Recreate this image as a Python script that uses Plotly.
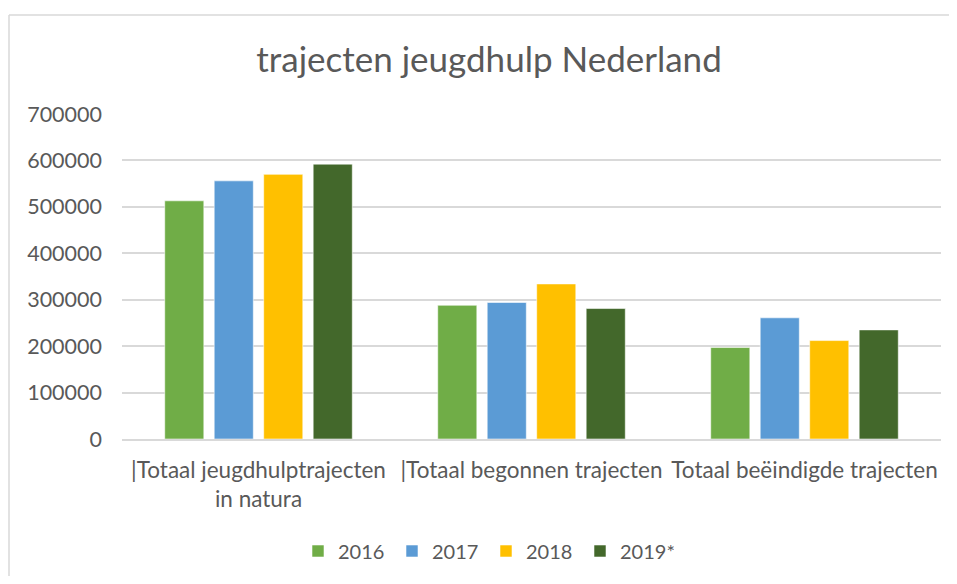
import plotly.graph_objects as go

categories = ["|Totaal jeugdhulptrajecten<br>in natura", "|Totaal begonnen trajecten", "Totaal beëindigde trajecten"]
years = ["2016", "2017", "2018", "2019*"]
v2016 = [513000, 288000, 197000]
v2017 = [556000, 294000, 261000]
v2018 = [570000, 334000, 212000]
v2019 = [592000, 281000, 235000]
colors = ["#70AD47", "#5B9BD5", "#FFC000", "#43682B"]
y_ticks = [0, 100000, 200000, 300000, 400000, 500000, 600000, 700000]

series = [v2016, v2017, v2018, v2019]
font_family = "Lato, Open Sans, sans-serif"
text_color = "#595959"

fig = go.Figure()
for name, vals, col in zip(years, series, colors):
    fig.add_trace(go.Bar(
        x=categories, y=vals, name=name,
        marker=dict(color=col, line=dict(color="rgba(255,255,255,0.55)", width=1)),
    ))

# page body has an 8px margin; compensate so the rendered view matches
OFF = 8
W, H = 957 - 2 * OFF, 584 - 2 * OFF
L, T = 122 - OFF, 114 - OFF
PLOT_RIGHT, PLOT_BOTTOM = 941 - OFF, 439 - OFF
R, B = W - PLOT_RIGHT, H - PLOT_BOTTOM
pw = W - L - R
ph = H - T - B

def px_to_paper_x(px):
    return (px - OFF - L) / pw

def px_to_paper_y(py):
    return (H - B - (py - OFF)) / ph

frame_line = dict(color="#D9D9D9", width=1.5)
fx0, fx1 = px_to_paper_x(OFF + 1), px_to_paper_x(W + 80)
fy_top, fy_bot = px_to_paper_y(15), px_to_paper_y(H + 80)

fig.update_layout(
    width=W, height=H,
    margin=dict(l=L, r=R, t=T, b=B, autoexpand=False),
    paper_bgcolor="white", plot_bgcolor="white",
    barmode="group", bargap=0.275, bargroupgap=0.21,
    font=dict(family=font_family, color=text_color, size=21),
    title=dict(text="trajecten jeugdhulp Nederland", x=(489 - OFF) / W, xanchor="center",
               y=1 - (60 - OFF) / H, yanchor="middle", font=dict(size=35, color=text_color, family=font_family)),
    legend=dict(orientation="h", x=px_to_paper_x(486), xanchor="center",
                y=px_to_paper_y(551), yanchor="middle", font=dict(size=20, color=text_color),
                itemwidth=30, entrywidth=49, traceorder="normal"),
    xaxis=dict(showgrid=False, showline=True, linecolor="#D9D9D9", linewidth=1.5,
               ticks="", ticklabelstandoff=10, tickfont=dict(size=22.5, color=text_color)),
    yaxis=dict(range=[0, 700000], tickvals=y_ticks, ticktext=[str(v) for v in y_ticks],
               showgrid=True, gridcolor="#D9D9D9", gridwidth=1.5, zeroline=False,
               showline=False, ticks="", ticklabelstandoff=19,
               tickfont=dict(size=21.5, color=text_color)),
    shapes=[
        dict(type="line", xref="paper", yref="paper", x0=fx0, x1=fx1, y0=fy_top, y1=fy_top,
             line=frame_line, layer="below"),
        dict(type="line", xref="paper", yref="paper", x0=fx0, x1=fx0, y0=fy_top, y1=fy_bot,
             line=frame_line, layer="below"),
    ],
)

fig.write_html("out.html")
